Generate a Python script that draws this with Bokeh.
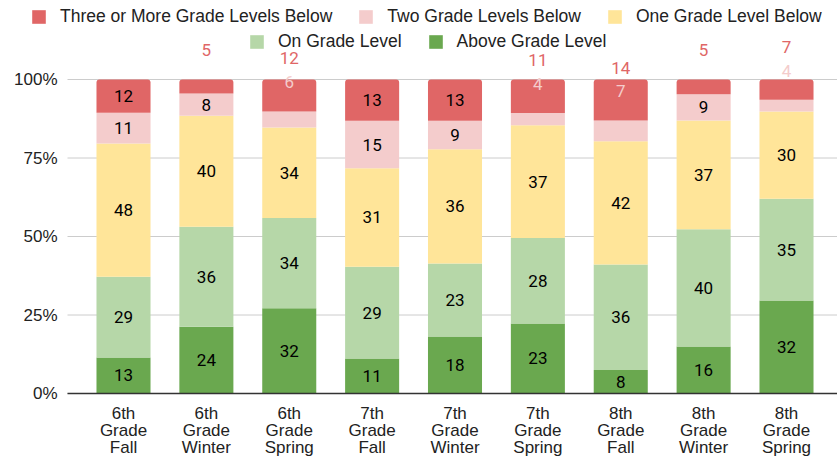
from bokeh.plotting import figure
from bokeh.models import Range1d, Legend, LegendItem, ColumnDataSource
from bokeh.embed import file_html
from bokeh.resources import INLINE
from bokeh.core.properties import value

categories = ["6th Grade Fall", "6th Grade Winter", "6th Grade Spring",
              "7th Grade Fall", "7th Grade Winter", "7th Grade Spring",
              "8th Grade Fall", "8th Grade Winter", "8th Grade Spring"]
above_grade = [13, 24, 32, 11, 18, 23, 8, 16, 32]
on_grade = [29, 36, 34, 29, 23, 28, 36, 40, 35]
one_below = [48, 40, 34, 31, 36, 37, 42, 37, 30]
two_below = [11, 8, 6, 15, 9, 4, 7, 9, 4]
three_below = [12, 5, 12, 13, 13, 11, 14, 5, 7]

series_names = ["Above Grade Level", "On Grade Level", "One Grade Level Below",
                "Two Grade Levels Below", "Three or More Grade Levels Below"]
series_values = [above_grade, on_grade, one_below, two_below, three_below]
colors = ["#6aa84f", "#b6d7a8", "#ffe599", "#f4cccc", "#e06666"]
y_ticks = [0, 0.25, 0.5, 0.75, 1.0]
y_tick_labels = ["0%", "25%", "50%", "75%", "100%"]

# layout constants (x range covers the whole canvas so the legend is not clipped)
X_START, X_END = -1.4842, 8.6154
PLOT_LEFT = -0.6757          # where the value axis / grid begins
Y_START, Y_END = -0.207, 1.2516

keys = ["s%d" % i for i in range(len(series_names))]
xs = list(range(len(categories)))
totals = [sum(v[i] for v in series_values) for i in xs]
data = {"x": xs}
for k, vals in zip(keys, series_values):
    data[k] = [v / t for v, t in zip(vals, totals)]
src = ColumnDataSource(data)

# data-label placement (segments too small get their label pushed above)
FIT = 0.068
ABOVE_OFF = 0.093
GAP = 0.076
lx, ly, lt, lc = [], [], [], []
for i in xs:
    bottom = 0.0
    prev = -10.0
    for k, vals, col in zip(keys, series_values, colors):
        h = data[k][i]
        top = bottom + h
        if h >= FIT:
            y = bottom + h / 2
            c = "#000000"
        else:
            y = top + ABOVE_OFF
            c = col
        if y < prev + GAP:
            y = prev + GAP
            c = col
        prev = y
        lx.append(i)
        ly.append(y)
        lt.append(str(vals[i]))
        lc.append(c)
        bottom = top
lab_src = ColumnDataSource(dict(x=lx, y=ly, t=lt, c=lc))
cat_src = ColumnDataSource(dict(x=xs, y=[0] * len(xs),
                                t=[c.replace(" ", "\n") for c in categories]))
n_t = len(y_ticks)
grid_src = ColumnDataSource(dict(x0=[PLOT_LEFT] * n_t, x1=[X_END] * n_t,
                                 y=y_ticks, t=y_tick_labels))

p = figure(width=837, height=458, output_backend="svg", toolbar_location=None,
           x_range=Range1d(X_START, X_END), y_range=Range1d(Y_START, Y_END),
           x_axis_location=None, y_axis_location=None,
           min_border_left=0, min_border_right=0, min_border_top=0,
           min_border_bottom=0)
p.outline_line_color = None
p.background_fill_color = "white"
p.grid.visible = False

# horizontal grid lines and value labels
p.segment(x0="x0", x1="x1", y0="y", y1="y", source=grid_src,
          line_color="#cccccc", line_width=1)
p.text(x="x0", y="y", text="t", source=grid_src, x_offset=-10,
       text_align="right", text_baseline="middle",
       text_font=value("Liberation Sans"), text_font_size="17px",
       text_color="#222222")

renderers = p.vbar_stack(keys, x="x", width=0.652, color=colors, source=src,
                         line_color=None)
try:
    renderers[-1].glyph.border_radius = (3, 3, 0, 0)
except Exception:
    pass

# baseline
p.segment(x0=[PLOT_LEFT], x1=[X_END], y0=[0], y1=[0],
          line_color="#333333", line_width=1.3)

p.text(x="x", y="y", text="t", text_color="c", source=lab_src,
       text_align="center", text_baseline="middle",
       text_font=value("Roboto"), text_font_size="17px")

# category labels under the baseline
p.text(x="x", y="y", text="t", source=cat_src, y_offset=10,
       text_align="center", text_baseline="top", text_line_height=0.92,
       text_font=value("Liberation Sans"), text_font_size="17px",
       text_color="#222222")

# legends (two centred rows)
def make_legend(idxs, loc):
    items = [LegendItem(label=series_names[j], renderers=[renderers[j]]) for j in idxs]
    lg = Legend(items=items, location=loc, orientation="horizontal",
                glyph_width=17, glyph_height=17, label_standoff=13, spacing=25,
                padding=0, margin=0, border_line_color=None,
                background_fill_alpha=0, label_text_font="Liberation Sans",
                label_text_font_size="17.5px", label_text_color="#222222",
                label_height=20)
    return lg

p.add_layout(make_legend([4, 3, 2], (30, 431)))
p.add_layout(make_legend([1, 0], (248, 406)))

open("out.html", "w").write(file_html(p, INLINE))
